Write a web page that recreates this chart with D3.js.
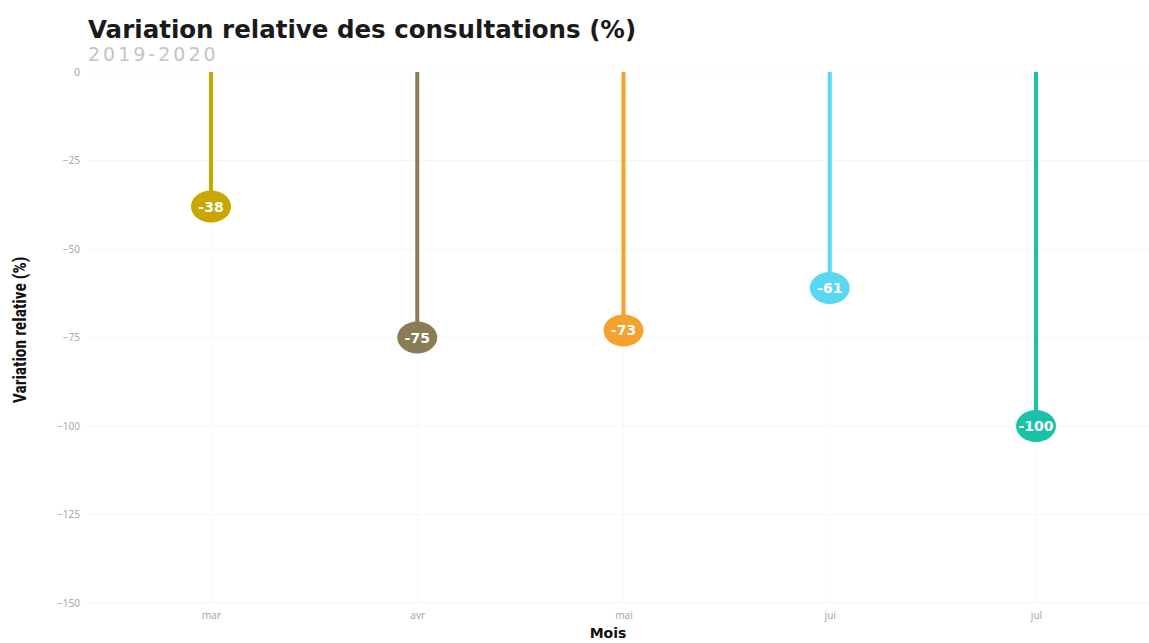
<!DOCTYPE html>
<html>
<head>
<meta charset="utf-8">
<script src="https://cdn.jsdelivr.net/npm/d3@7"></script>
<style>
  body { margin: 0; background: #fff; }
  svg { display: block; }
</style>
</head>
<body>
<svg id="chart" width="1149" height="643"></svg>
<script>
// data
const months = ['mar', 'avr', 'mai', 'jui', 'jul'];
const variation = [-38, -75, -73, -61, -100];
const colours = ['#c9a700', '#8a7d55', '#f6a02e', '#5ad8f3', '#1ac3a8'];
const yTicks = [0, -25, -50, -75, -100, -125, -150];

const width = 1149;
const height = 643;
const margin = { top: 72, right: 0, bottom: 40, left: 87 };

const svg = d3.select('#chart');

const x = d3
  .scalePoint()
  .domain(months)
  .range([211, 1036]);

const y = d3
  .scaleLinear()
  .domain([-150, 0])
  .range([603, margin.top]);

// faint grid
const grid = svg.append('g');
grid
  .selectAll('line.h')
  .data(yTicks)
  .join('line')
  .attr('x1', margin.left)
  .attr('x2', width)
  .attr('y1', (d) => y(d))
  .attr('y2', (d) => y(d))
  .attr('stroke', '#f6f6f6')
  .attr('stroke-width', 1);
grid
  .selectAll('line.v')
  .data(months)
  .join('line')
  .attr('x1', (d) => x(d))
  .attr('x2', (d) => x(d))
  .attr('y1', margin.top)
  .attr('y2', 603)
  .attr('stroke', '#f8f8f8')
  .attr('stroke-width', 1);

// y axis
const yAxis = svg
  .append('g')
  .attr('transform', `translate(${margin.left - 7},0)`)
  .call(d3.axisLeft(y).tickValues(yTicks).tickSize(0).tickPadding(0));
yAxis.select('.domain').remove();
yAxis
  .selectAll('text')
  .attr('fill', '#a8a8a8')
  .attr('font-family', 'Noto Sans, sans-serif')
  .attr('font-size', 10);

// x axis
const xAxis = svg
  .append('g')
  .attr('transform', 'translate(0,612)')
  .call(d3.axisBottom(x).tickSize(0).tickPadding(0));
xAxis.select('.domain').remove();
xAxis
  .selectAll('text')
  .attr('fill', '#a8a8a8')
  .attr('font-family', 'Noto Sans, sans-serif')
  .attr('font-size', 10);

// lollipops
const data = months.map((m, i) => ({ m, v: variation[i], c: colours[i] }));

svg
  .append('g')
  .selectAll('line')
  .data(data)
  .join('line')
  .attr('x1', (d) => x(d.m))
  .attr('x2', (d) => x(d.m))
  .attr('y1', y(0))
  .attr('y2', (d) => y(d.v))
  .attr('stroke', (d) => d.c)
  .attr('stroke-width', 4);

svg
  .append('g')
  .selectAll('ellipse')
  .data(data)
  .join('ellipse')
  .attr('cx', (d) => x(d.m))
  .attr('cy', (d) => y(d.v))
  .attr('rx', 20)
  .attr('ry', 16)
  .attr('fill', (d) => d.c);

svg
  .append('g')
  .selectAll('text')
  .data(data)
  .join('text')
  .attr('x', (d) => x(d.m))
  .attr('y', (d) => y(d.v) + 5)
  .attr('text-anchor', 'middle')
  .attr('fill', '#fff')
  .attr('font-family', 'DejaVu Sans, sans-serif')
  .attr('font-weight', 'bold')
  .attr('font-size', 14)
  .text((d) => d.v);

// titles
svg
  .append('text')
  .attr('x', 88)
  .attr('y', 38)
  .attr('font-family', 'DejaVu Sans, sans-serif')
  .attr('font-weight', 'bold')
  .attr('font-size', 24.5)
  .attr('fill', '#1a1a1a')
  .text('Variation relative des consultations (%)');

svg
  .append('text')
  .attr('x', 88)
  .attr('y', 61)
  .attr('font-family', 'DejaVu Sans, sans-serif')
  .attr('font-size', 19)
  .attr('letter-spacing', 3)
  .attr('fill', '#c4c4c4')
  .text('2019-2020');

svg
  .append('text')
  .attr('transform', 'translate(26,330) rotate(-90)')
  .attr('text-anchor', 'middle')
  .attr('font-family', 'Roboto, sans-serif')
  .attr('font-stretch', 'condensed')
  .attr('font-weight', 'bold')
  .attr('font-size', 17.5)
  .attr('fill', '#111')
  .text('Variation relative (%)');

svg
  .append('text')
  .attr('x', 608)
  .attr('y', 638)
  .attr('text-anchor', 'middle')
  .attr('font-family', 'DejaVu Sans, sans-serif')
  .attr('font-weight', 'bold')
  .attr('font-size', 14)
  .attr('fill', '#111')
  .text('Mois');
</script>
</body>
</html>
